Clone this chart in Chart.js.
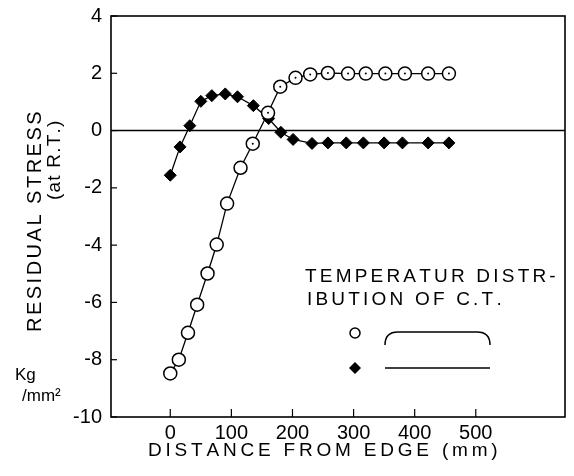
<!DOCTYPE html>
<html>
<head>
<meta charset="utf-8">
<script src="https://cdn.jsdelivr.net/npm/chart.js@4/dist/chart.umd.min.js"></script>
<style>
  html, body { margin: 0; padding: 0; background: #fff; }
  #wrap { width: 574px; height: 476px; }
</style>
</head>
<body>
<div id="wrap"><canvas id="stressChart" width="574" height="476"></canvas></div>
<script>
// distance from edge (mm) and residual stress (kg/mm2)
const circleX = [0, 14, 29, 44, 61, 76, 93, 115, 135, 160, 180, 205, 229, 258, 291, 320, 352, 384, 422, 456];
const circleY = [-8.48, -8.0, -7.06, -6.08, -4.99, -3.98, -2.55, -1.30, -0.46, 0.62, 1.53, 1.84, 1.96, 2.01, 1.99, 1.99, 1.99, 1.99, 1.99, 1.99];
const diamondX = [0, 16, 32, 50, 68, 90, 110, 136, 161, 181, 201, 232, 258, 288, 316, 350, 380, 422, 456];
const diamondY = [-1.56, -0.57, 0.17, 1.02, 1.22, 1.28, 1.18, 0.87, 0.42, -0.06, -0.31, -0.45, -0.43, -0.43, -0.43, -0.43, -0.43, -0.43, -0.43];
const xTickVals = [0, 100, 200, 300, 400, 500];
const yTickVals = [-10, -8, -6, -4, -2, 0, 2, 4];

const FONT = "'Liberation Sans', Arial, sans-serif";

function toPoints(xs, ys) {
  return xs.map((x, i) => ({ x: x, y: ys[i] }));
}

// draw text one char at a time so we can space it out like the plotter lettering
function spacedText(ctx, text, x, y, gap) {
  let cx = x;
  for (const ch of text) {
    ctx.fillText(ch, cx, y);
    cx += ctx.measureText(ch).width + gap;
  }
}

const decor = {
  id: 'decor',
  afterDatasetsDraw(chart) {
    // little centre dots on the open circles, like the original plot
    const ctx = chart.ctx;
    const meta = chart.getDatasetMeta(0);
    ctx.save();
    ctx.fillStyle = '#000';
    meta.data.forEach((pt, i) => {
      if (i < 8) return;
      ctx.beginPath();
      ctx.arc(pt.x, pt.y, 1, 0, Math.PI * 2);
      ctx.fill();
    });
    ctx.restore();
  },
  afterDraw(chart) {
    const ctx = chart.ctx;
    const a = chart.chartArea;
    const xs = chart.scales.x;
    const ys = chart.scales.y;
    ctx.save();
    ctx.strokeStyle = '#000';
    ctx.fillStyle = '#000';

    // frame
    ctx.lineWidth = 1.6;
    ctx.strokeRect(a.left, a.top, a.right - a.left, a.bottom - a.top);

    // zero line
    const y0 = ys.getPixelForValue(0);
    ctx.beginPath();
    ctx.moveTo(a.left, y0);
    ctx.lineTo(a.right, y0);
    ctx.stroke();

    // inward ticks
    ctx.lineWidth = 1.2;
    yTickVals.forEach(v => {
      const py = ys.getPixelForValue(v);
      ctx.beginPath();
      ctx.moveTo(a.left, py);
      ctx.lineTo(a.left + 6, py);
      ctx.stroke();
    });
    xTickVals.forEach(v => {
      const px = xs.getPixelForValue(v);
      ctx.beginPath();
      ctx.moveTo(px, a.bottom);
      ctx.lineTo(px, a.bottom - 8);
      ctx.stroke();
    });

    // x title
    ctx.font = '19px ' + FONT;
    ctx.textBaseline = 'middle';
    ctx.textAlign = 'left';
    spacedText(ctx, 'DISTANCE FROM EDGE (mm)', 148, 451, 3.8);

    // y title, rotated
    ctx.save();
    ctx.translate(35, 332);
    ctx.rotate(-Math.PI / 2);
    ctx.font = '20px ' + FONT;
    spacedText(ctx, 'RESIDUAL STRESS', 0, 0, 2.5);
    ctx.restore();
    ctx.save();
    ctx.translate(55, 200);
    ctx.rotate(-Math.PI / 2);
    ctx.font = '19px ' + FONT;
    spacedText(ctx, '(at R.T.)', 0, 0, 1.2);
    ctx.restore();

    // unit
    ctx.font = '17px ' + FONT;
    ctx.fillText('Kg', 15, 375);
    ctx.fillText('/mm²', 22, 396);

    // legend
    ctx.font = '19px ' + FONT;
    spacedText(ctx, 'TEMPERATUR DISTR-', 305, 277, 3.2);
    spacedText(ctx, 'IBUTION OF C.T.', 307, 300, 3.2);

    ctx.lineWidth = 1.5;
    ctx.beginPath();
    ctx.arc(355, 333, 5, 0, Math.PI * 2);
    ctx.fillStyle = '#fff';
    ctx.fill();
    ctx.stroke();

    ctx.fillStyle = '#000';
    ctx.beginPath();
    ctx.moveTo(355, 362);
    ctx.lineTo(361, 368);
    ctx.lineTo(355, 374);
    ctx.lineTo(349, 368);
    ctx.closePath();
    ctx.fill();

    // bracket-shaped line for the first distribution
    ctx.beginPath();
    ctx.moveTo(385, 345);
    ctx.quadraticCurveTo(385, 332, 398, 332);
    ctx.lineTo(477, 332);
    ctx.quadraticCurveTo(490, 332, 490, 345);
    ctx.stroke();

    ctx.beginPath();
    ctx.moveTo(385, 368);
    ctx.lineTo(490, 368);
    ctx.stroke();

    ctx.restore();
  }
};

function renderChart() {
  const ctx = document.getElementById('stressChart').getContext('2d');
  new Chart(ctx, {
    type: 'scatter',
    data: {
      datasets: [{
        label: 'circle',
        data: toPoints(circleX, circleY),
        showLine: true,
        borderColor: '#000',
        borderWidth: 1.3,
        pointStyle: 'circle',
        pointRadius: 6.5,
        pointBackgroundColor: '#fff',
        pointBorderColor: '#000',
        pointBorderWidth: 1.5
      }, {
        label: 'diamond',
        data: toPoints(diamondX, diamondY),
        showLine: true,
        borderColor: '#000',
        borderWidth: 1.3,
        pointStyle: 'rectRot',
        pointRadius: 6,
        pointBackgroundColor: '#000',
        pointBorderColor: '#000',
        pointBorderWidth: 1
      }]
    },
    options: {
      responsive: false,
      animation: false,
      devicePixelRatio: 1,
      layout: { padding: { left: 0, right: 9, top: 16, bottom: 0 } },
      plugins: {
        legend: { display: false },
        tooltip: { enabled: false }
      },
      scales: {
        x: {
          type: 'linear',
          min: -97,
          max: 646,
          afterBuildTicks: s => { s.ticks = xTickVals.map(v => ({ value: v })); },
          afterFit: s => { s.height = 59; s.paddingLeft = 0; s.paddingRight = 0; },
          grid: { display: false, drawTicks: false },
          border: { display: false },
          ticks: { color: '#000', font: { family: FONT, size: 20 }, padding: 4, maxRotation: 0 }
        },
        y: {
          type: 'linear',
          min: -10,
          max: 4,
          afterBuildTicks: s => { s.ticks = yTickVals.map(v => ({ value: v })); },
          afterFit: s => { s.width = 111; s.paddingTop = 0; s.paddingBottom = 0; },
          grid: { display: false, drawTicks: false },
          border: { display: false },
          ticks: { color: '#000', font: { family: FONT, size: 20 }, padding: 9 }
        }
      }
    },
    plugins: [decor]
  });
}

document.addEventListener('DOMContentLoaded', renderChart);
</script>
</body>
</html>
